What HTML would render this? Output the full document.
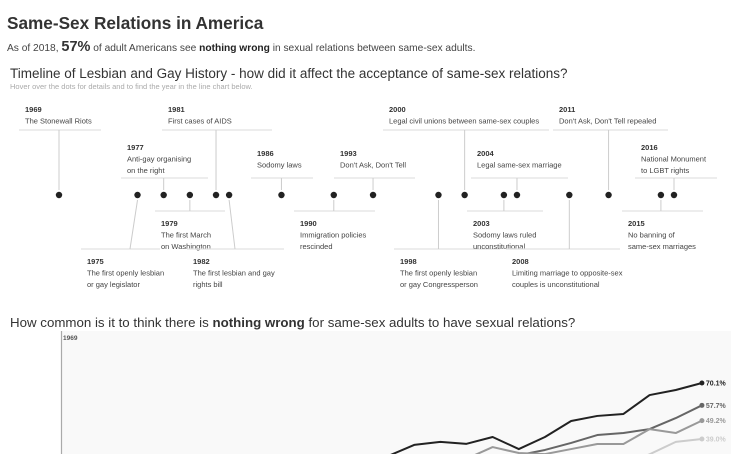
<!DOCTYPE html>
<html><head><meta charset="utf-8"><style>
html,body{margin:0;padding:0;background:#fff;width:736px;height:454px;overflow:hidden}
svg{display:block;font-family:"Liberation Sans",sans-serif;overflow:hidden}
</style></head><body>
<svg id="s" width="736" height="454" viewBox="0 0 736 454">
<text x="7" y="29" font-size="17.2" font-weight="bold" fill="#333">Same-Sex Relations in America</text>
<text x="7" y="51" font-size="10.2" fill="#444">As of 2018, <tspan font-size="14.5" font-weight="bold" fill="#333">57%</tspan> of adult Americans see <tspan font-weight="bold" fill="#222">nothing wrong</tspan> in sexual relations between same-sex adults.</text>
<text x="10" y="78" font-size="13.5" fill="#333">Timeline of Lesbian and Gay History - how did it affect the acceptance of same-sex relations?</text>
<text x="10" y="89" font-size="7.5" fill="#aaa">Hover over the dots for details and to find the year in the line chart below.</text>
<g id="tl"></g>
<text x="10" y="327" font-size="13.3" fill="#333">How common is it to think there is <tspan font-weight="bold">nothing wrong</tspan> for same-sex adults to have sexual relations?</text>
<rect x="61" y="331" width="670" height="123" fill="#f9f9f9"/>
<line x1="61.5" y1="331" x2="61.5" y2="454" stroke="#aaa" stroke-width="1.2"/>
<text x="63" y="340" font-size="6.5" font-weight="bold" fill="#555">1969</text>
<g id="ch"></g>
</svg>
<script>
// Timeline data
const evYears=[1969,1975,1977,1979,1981,1982,1986,1990,1993,1998,2000,2003,2004,2008,2011,2015,2016];
const evText=[["The Stonewall Riots"],["The first openly lesbian","or gay legislator"],["Anti-gay organising","on the right"],["The first March","on Washington"],["First cases of AIDS"],["The first lesbian and gay","rights bill"],["Sodomy laws"],["Immigration policies","rescinded"],["Don't Ask, Don't Tell"],["The first openly lesbian","or gay Congressperson"],["Legal civil unions between same-sex couples"],["Sodomy laws ruled","unconstitutional"],["Legal same-sex marriage"],["Limiting marriage to opposite-sex","couples is unconstitutional"],["Don't Ask, Don't Tell repealed"],["No banning of","same-sex marriages"],["National Monument","to LGBT rights"]];
// Line chart data
const years=[1988,1990,1991,1993,1994,1996,1998,2000,2002,2004,2006,2008,2010,2012,2014,2016,2018];
const seriesA=[20,24,25,27,29.5,35.7,37.4,36.3,40.1,33.4,40.1,49,51.8,52.9,63.4,66.2,70.1];
const seriesB=[15,16,17,20,22,24,26,27,29,30,32.9,36.8,41.2,42.3,44.5,50.6,57.7];
const seriesC=[14,15,16,19,21,24,26,28,34.5,31.2,30.6,33.4,36.2,36.2,44.5,42.3,49.2];
const seriesD=[5,6,7,9,10,12,14,16,18,20,22,23,24,25,30.5,37.4,39.0];
const seriesLabels=["70.1%","57.7%","49.2%","39.0%"];

const NS="http://www.w3.org/2000/svg";
function mk(tag,attrs,parent){const e=document.createElementNS(NS,tag);for(const k in attrs)e.setAttribute(k,attrs[k]);parent.appendChild(e);return e;}
const tx=y=>59+(y-1969)*13.085;
const rows=["t1","b2","t2","b1","t1","b2","t2","b1","t2","b2","t1","b1","t2","b2","t1","b1","t2"];
const lx=[[19,101],[81,160],[121,208],[155,225],[162,272],[187,284],[251,313],[294,375],[334,415],[394,500],[383,549],[467,543],[471,568],[506,620],[553,668],[622,703],[635,717]];
const cend={1975:130,1982:235};
const rowCfg={t1:{ly:130,yy:112,up:true},t2:{ly:178,yy:150,up:true},b1:{ly:211,yy:226,up:false},b2:{ly:249,yy:264,up:false}};
const tl=document.getElementById('tl');
evYears.forEach((yr,i)=>{
  const x=tx(yr), c=rowCfg[rows[i]], g=mk('g',{},tl);
  
  
  const l=mk('line',{x1:lx[i][0],x2:lx[i][1],y1:c.ly,y2:c.ly,stroke:'#e2e2e2','stroke-width':1.2},g);
  
  
  const ex=cend[yr]!==undefined?cend[yr]:x;
  const cn=mk('line',{x1:x,y1:c.up?190:200,x2:ex,y2:c.ly,stroke:'#ccc','stroke-width':1},g);
  
  
  const tX=lx[i][0]+6;
  let lines=evText[i], yy=c.yy;
  if(rows[i]==='t2'&&lines.length===1) yy+=6;
  const t1=mk('text',{x:tX,y:yy,'font-size':7.5,'font-weight':'bold',fill:'#333'},g);
  t1.textContent=yr;
  
  
  lines.forEach((s,j)=>{const t=mk('text',{x:tX,y:yy+11.5*(j+1),'font-size':7.5,fill:'#444'},g);t.textContent=s;
    
    });
  const d=mk('circle',{cx:x,cy:195,r:3.2,fill:'#222'},g);
  
  
});
const ch=document.getElementById('ch');
const cx=y=>61+(y-1969)*13.08;
const cy=v=>383+(70.1-v)*1.8;
const clip=mk('clipPath',{id:'cp'},ch);mk('rect',{x:61,y:331,width:675,height:123},clip);
const all=[seriesA,seriesB,seriesC,seriesD], cols=['#222','#666','#999','#ccc'];
all.forEach((s,k)=>{
  const p=mk('polyline',{points:s.map((v,i)=>cx(years[i])+','+cy(v)).join(' '),fill:'none',stroke:cols[k],'stroke-width':2,'clip-path':'url(#cp)','stroke-linejoin':'round'},ch);
  
  
  const n=s.length-1, ex=cx(years[n]), ey=cy(s[n]);
  const c=mk('circle',{cx:ex,cy:ey,r:2.5,fill:cols[k]},ch);
  
  
  const t=mk('text',{x:ex+4,y:ey+2.5,'font-size':7,'font-weight':'bold',fill:cols[k]},ch);
  t.textContent=seriesLabels[k];
  
  
});
</script>
</body></html>
